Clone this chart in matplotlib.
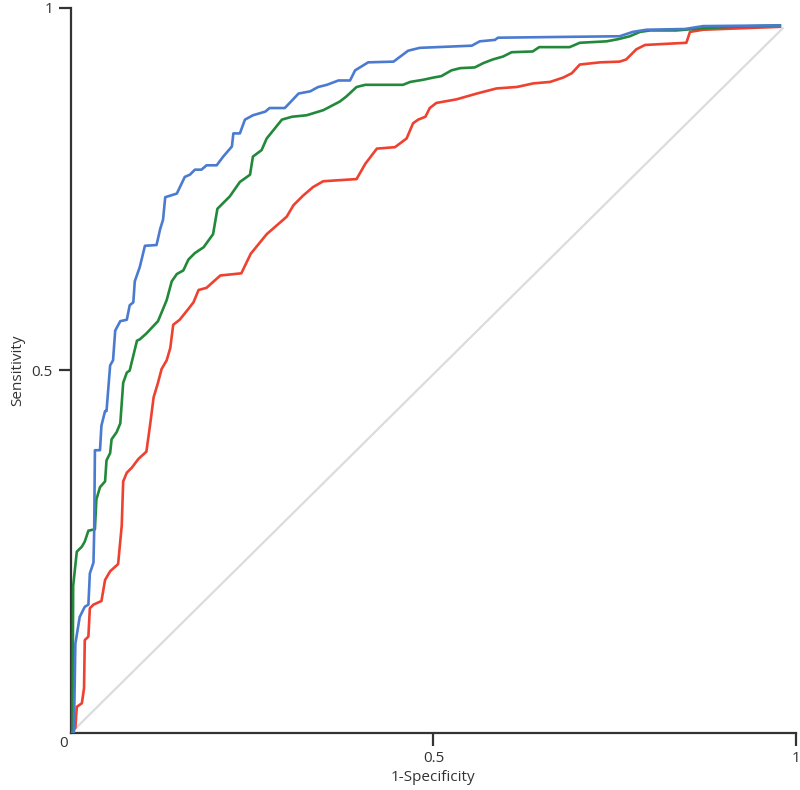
import matplotlib
matplotlib.use('Agg')
import matplotlib.pyplot as plt

# === 1. ROC curve points ===
blue_fpr = [0, 0.004, 0.006, 0.012, 0.019, 0.024, 0.026, 0.031, 0.032, 0.033, 0.040, 0.042,
            0.047, 0.049, 0.054, 0.058, 0.061, 0.068, 0.077, 0.081, 0.086, 0.088, 0.095,
            0.102, 0.118, 0.123, 0.127, 0.130, 0.146, 0.157, 0.164, 0.171, 0.180, 0.187,
            0.201, 0.210, 0.222, 0.224, 0.233, 0.240, 0.251, 0.268, 0.274, 0.295, 0.314,
            0.330, 0.341, 0.353, 0.369, 0.385, 0.392, 0.410, 0.445, 0.465, 0.481, 0.553,
            0.564, 0.585, 0.589, 0.670, 0.757, 0.775, 0.794, 0.847, 0.872, 0.978]
blue_tpr = [0, 0, 0.123, 0.160, 0.174, 0.177, 0.220, 0.235, 0.279, 0.390, 0.390, 0.424,
            0.444, 0.444, 0.507, 0.514, 0.555, 0.568, 0.570, 0.590, 0.594, 0.623, 0.643,
            0.672, 0.673, 0.695, 0.708, 0.739, 0.744, 0.767, 0.770, 0.777, 0.777, 0.783,
            0.783, 0.795, 0.809, 0.827, 0.827, 0.846, 0.852, 0.857, 0.862, 0.862, 0.882,
            0.885, 0.891, 0.894, 0.900, 0.900, 0.914, 0.925, 0.926, 0.941, 0.945, 0.948,
            0.954, 0.956, 0.959, 0.960, 0.961, 0.967, 0.970, 0.971, 0.975, 0.976]

green_fpr = [0, 0.002, 0.003, 0.008, 0.015, 0.019, 0.024, 0.033, 0.035, 0.040, 0.047, 0.049,
             0.054, 0.056, 0.063, 0.068, 0.072, 0.077, 0.081, 0.091, 0.095, 0.104, 0.120,
             0.125, 0.132, 0.139, 0.146, 0.155, 0.162, 0.171, 0.183, 0.196, 0.202, 0.219,
             0.233, 0.247, 0.251, 0.263, 0.270, 0.291, 0.305, 0.325, 0.348, 0.371, 0.380,
             0.394, 0.406, 0.458, 0.468, 0.486, 0.500, 0.511, 0.525, 0.537, 0.557, 0.569,
             0.582, 0.596, 0.608, 0.637, 0.646, 0.688, 0.702, 0.739, 0.755, 0.771, 0.785,
             0.799, 0.835, 0.872, 0.909, 0.978]
green_tpr = [0, 0, 0.203, 0.250, 0.257, 0.264, 0.279, 0.281, 0.322, 0.339, 0.347, 0.376,
             0.386, 0.405, 0.415, 0.427, 0.483, 0.497, 0.500, 0.541, 0.543, 0.551, 0.568,
             0.580, 0.597, 0.623, 0.633, 0.638, 0.653, 0.662, 0.670, 0.688, 0.723, 0.740,
             0.760, 0.770, 0.795, 0.804, 0.820, 0.846, 0.850, 0.852, 0.859, 0.871, 0.878,
             0.891, 0.894, 0.894, 0.898, 0.901, 0.904, 0.906, 0.914, 0.917, 0.918, 0.924,
             0.929, 0.933, 0.939, 0.940, 0.946, 0.946, 0.952, 0.954, 0.957, 0.961, 0.967,
             0.969, 0.969, 0.972, 0.974, 0.976]

red_fpr = [0, 0.006, 0.008, 0.015, 0.018, 0.019, 0.024, 0.026, 0.031, 0.042, 0.047, 0.054,
           0.065, 0.070, 0.072, 0.077, 0.084, 0.093, 0.104, 0.109, 0.114, 0.120, 0.125,
           0.132, 0.137, 0.141, 0.150, 0.162, 0.169, 0.176, 0.187, 0.206, 0.235, 0.248,
           0.270, 0.2975, 0.307, 0.320, 0.334, 0.348, 0.394, 0.406, 0.422, 0.447, 0.463,
           0.472, 0.479, 0.489, 0.495, 0.504, 0.532, 0.560, 0.587, 0.615, 0.638, 0.661,
           0.679, 0.691, 0.702, 0.730, 0.757, 0.766, 0.780, 0.792, 0.849, 0.854, 0.872,
           0.978]
red_tpr = [0, 0.007, 0.036, 0.041, 0.062, 0.128, 0.133, 0.172, 0.177, 0.182, 0.211, 0.223,
           0.233, 0.286, 0.347, 0.359, 0.366, 0.378, 0.388, 0.424, 0.463, 0.483, 0.502,
           0.514, 0.531, 0.563, 0.570, 0.585, 0.594, 0.611, 0.614, 0.631, 0.634, 0.661,
           0.688, 0.712, 0.728, 0.741, 0.753, 0.761, 0.764, 0.785, 0.806, 0.808, 0.820,
           0.841, 0.846, 0.850, 0.862, 0.869, 0.874, 0.882, 0.889, 0.891, 0.896, 0.898,
           0.904, 0.910, 0.922, 0.925, 0.926, 0.929, 0.943, 0.949, 0.952, 0.967, 0.970,
           0.974]

chance_fpr = [0, 0.982]
chance_tpr = [0, 0.972]

# === 2. Figure ===
plt.rcParams['font.family'] = ['Open Sans', 'DejaVu Sans']
fig = plt.figure(figsize=(8, 7.9), dpi=100)
ax = fig.add_axes([0.08875, 0.0722, 0.906, 0.9177])

ax.plot(chance_fpr, chance_tpr, color='#dcdcdc', lw=1.6, zorder=1)
ax.plot(red_fpr, red_tpr, color='#ee4130', lw=1.9, zorder=2)
ax.plot(green_fpr, green_tpr, color='#23893a', lw=1.9, zorder=3)
ax.plot(blue_fpr, blue_tpr, color='#4a7bd0', lw=1.9, zorder=4)

ax.set_xlim(0, 1)
ax.set_ylim(0, 1)
for s in ['top', 'right']:
    ax.spines[s].set_visible(False)
for s in ['left', 'bottom']:
    ax.spines[s].set_color('#333333')
    ax.spines[s].set_linewidth(1.6)

ax.set_xticks([0.5, 1])
ax.set_xticklabels(['0.5', '1'])
ax.set_yticks([0.5, 1])
ax.set_yticklabels(['0.5', '1'])
ax.tick_params(length=9, width=1.6, color='#333333', labelsize=11,
               labelcolor='#333333', pad=4)
ax.annotate('0', xy=(0, 0), xytext=(-5, -2), textcoords='offset points',
            ha='center', va='top', fontsize=11, color='#333333')

ax.set_xlabel('1-Specificity', fontsize=11, color='#333333', labelpad=3)
ax.set_ylabel('Sensitivity', fontsize=11, color='#333333', labelpad=5)

fig.savefig('out.png', dpi=100)
